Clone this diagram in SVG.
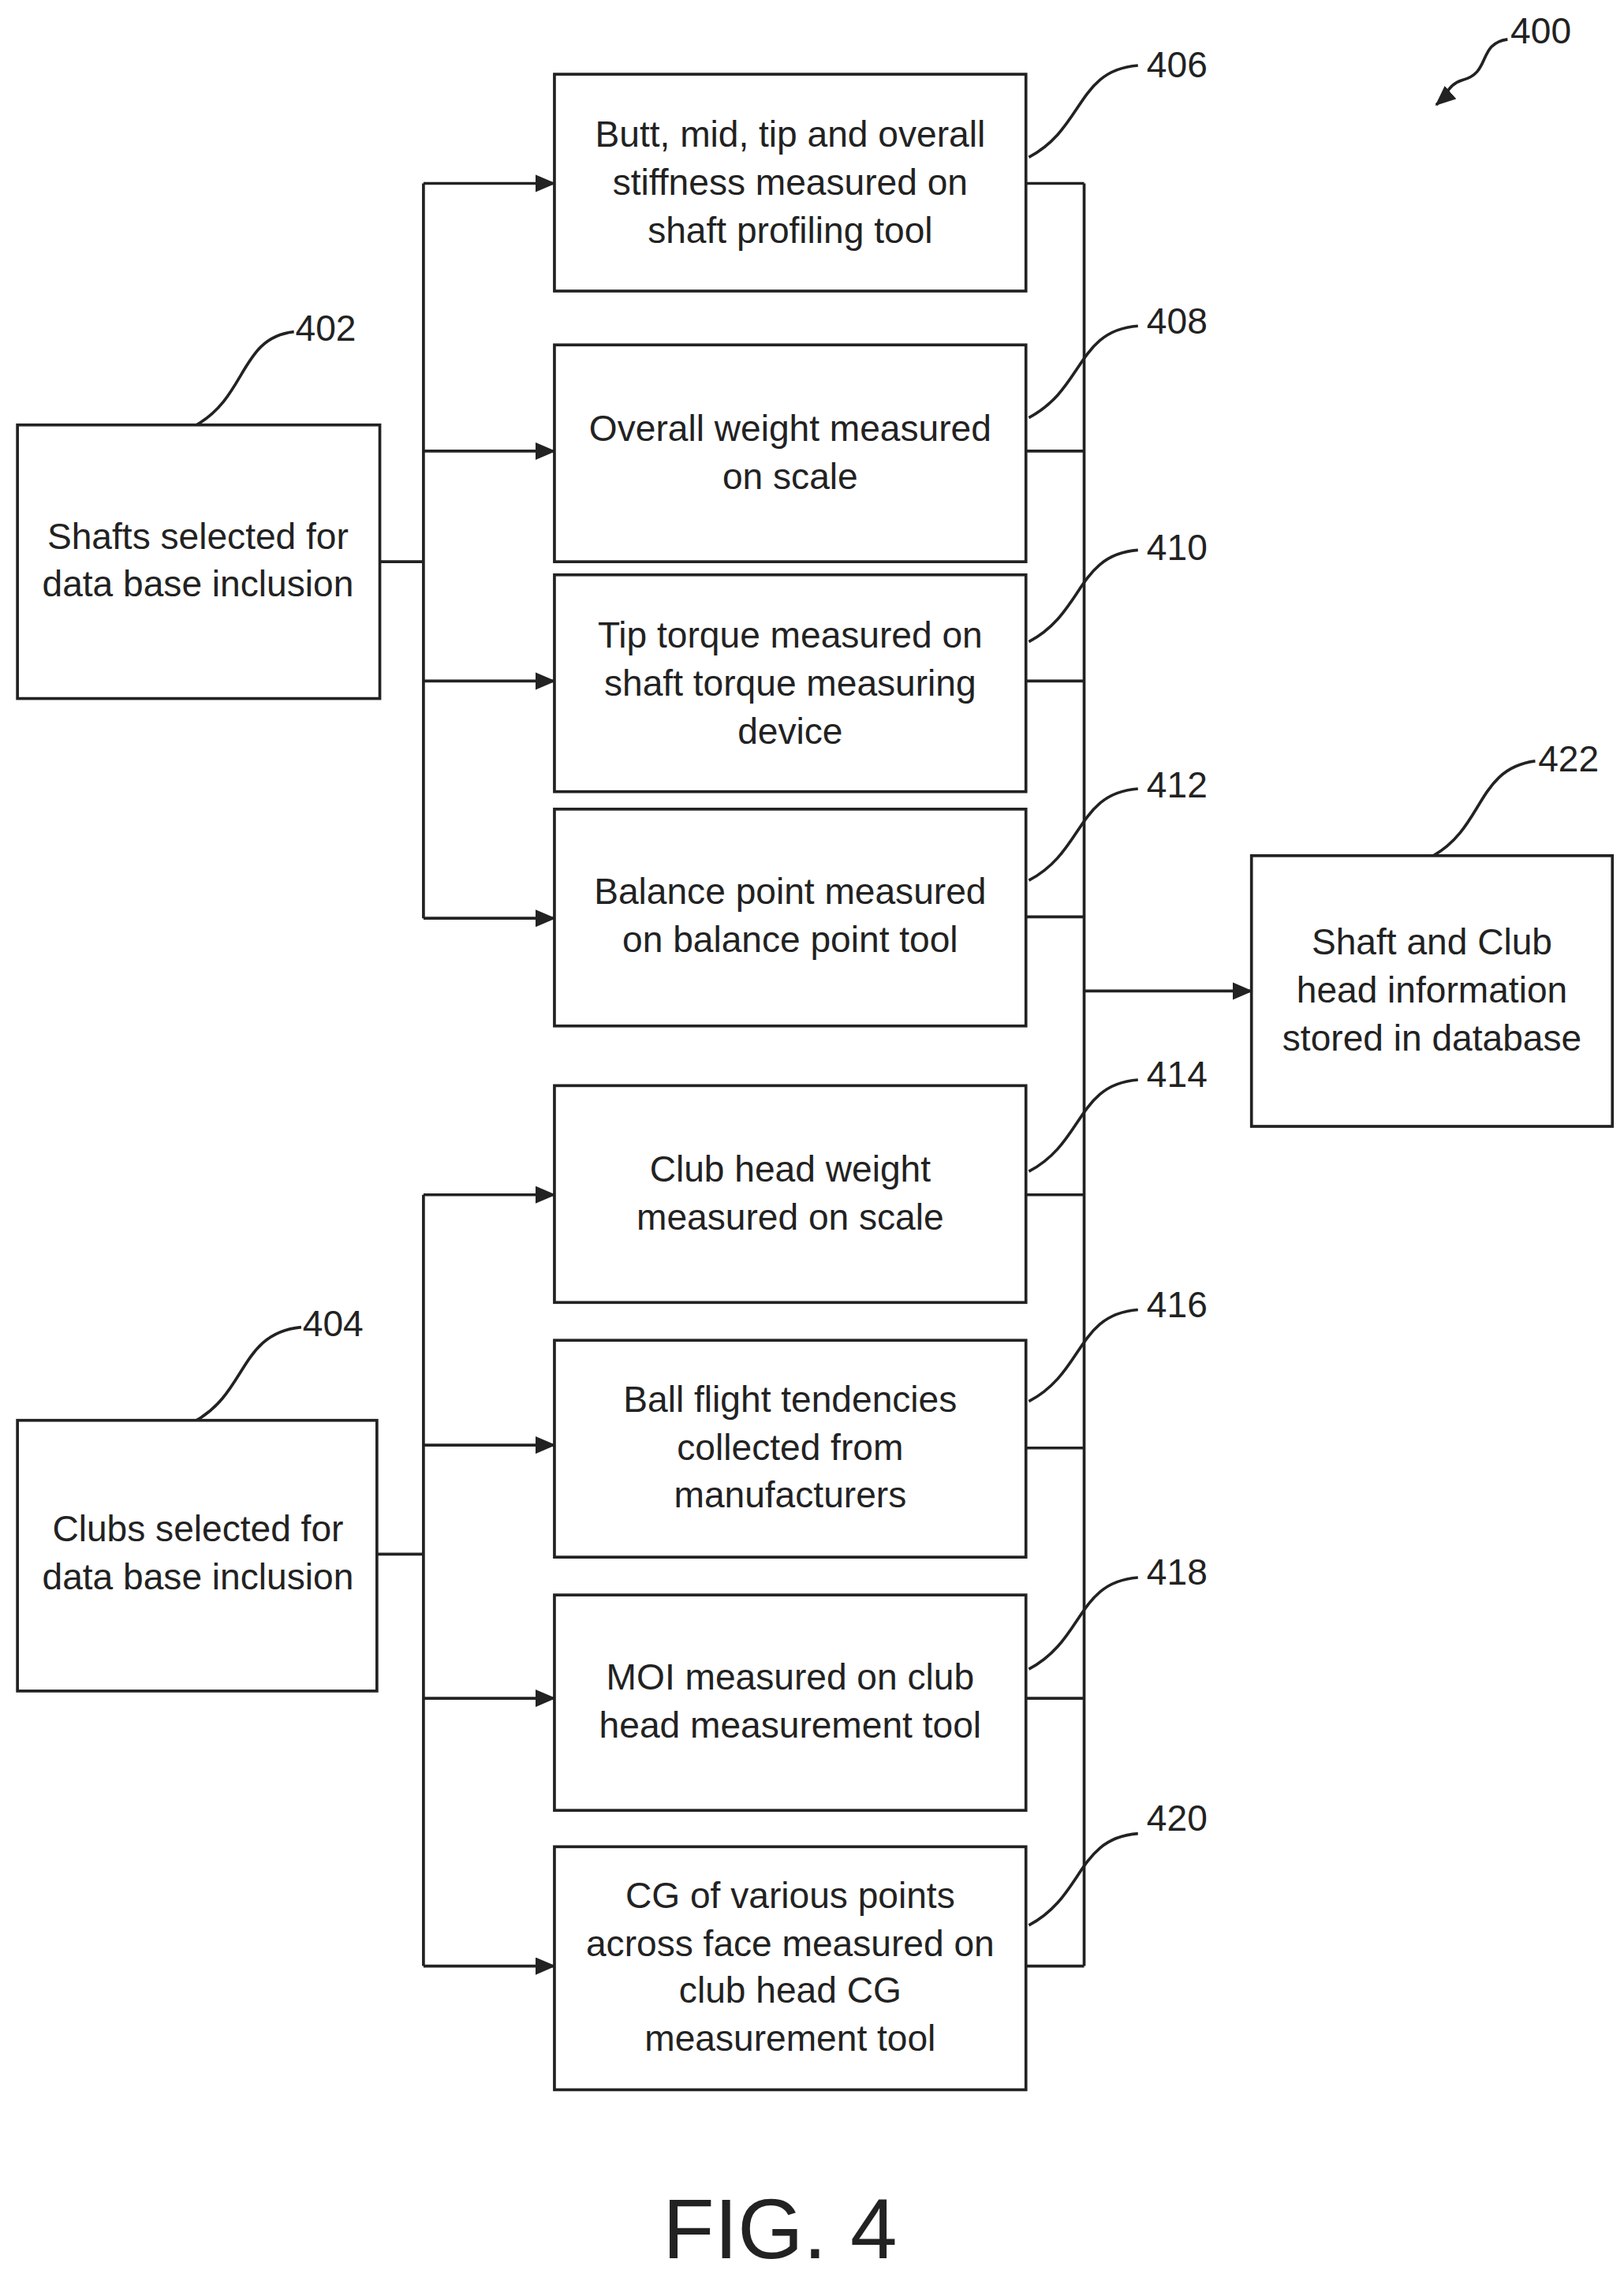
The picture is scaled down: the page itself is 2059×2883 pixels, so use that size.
<svg xmlns="http://www.w3.org/2000/svg" width="2059" height="2883" viewBox="0 0 2059 2883">
<style>
.b{fill:#fff;stroke:#222;stroke-width:2}
.l{fill:none;stroke:#222;stroke-width:2}
text{font-family:"Liberation Sans",Arial,sans-serif;font-size:25px;fill:#222;text-anchor:middle}
.n{text-anchor:start}
</style>
<defs><marker id="a" markerWidth="14" markerHeight="12" refX="13" refY="6" orient="auto" markerUnits="userSpaceOnUse"><path d="M0,0L14,6L0,12z" fill="#222"/></marker></defs>
<rect width="2059" height="2883" fill="#fff"/>
<g transform="scale(1.845)">
<g id="connectors">
<path class="l" d="M261,386H291M291,126V631"/>
<path class="l" marker-end="url(#a)" d="M291,126H381"/>
<path class="l" marker-end="url(#a)" d="M291,310H381"/>
<path class="l" marker-end="url(#a)" d="M291,468H381"/>
<path class="l" marker-end="url(#a)" d="M291,631H381"/>
<path class="l" d="M259,1068H291M291,821V1351"/>
<path class="l" marker-end="url(#a)" d="M291,821H381"/>
<path class="l" marker-end="url(#a)" d="M291,993H381"/>
<path class="l" marker-end="url(#a)" d="M291,1167H381"/>
<path class="l" marker-end="url(#a)" d="M291,1351H381"/>
<path class="l" d="M705,126H745M705,310H745M705,468H745M705,630H745M705,821H745M705,995H745M705,1167H745M705,1351H745M745,126V1351"/>
<path class="l" marker-end="url(#a)" d="M745,681H860"/>
<path class="l" d="M707,108C745,88 740,48 782,45M707,287C745,267 740,227 782,224M707,441C745,421 740,381 782,378M707,605C745,585 740,545 782,542M707,805C745,785 740,745 782,742M707,963C745,943 740,903 782,900M707,1147C745,1127 740,1087 782,1084M707,1323C745,1303 740,1263 782,1260M135,292C170,272 165,232 202,228M135,976C170,956 165,916 207,912M985,588C1020,568 1015,528 1055,523"/>
<path class="l" marker-end="url(#a)" d="M1036,27C1015,30 1025,50 1005,55C995,58 995,65 987,72"/>
</g>
<g id="n402"><rect class="b" x="12" y="292" width="249" height="188"/><text x="136" y="377">Shafts selected for</text><text x="136" y="410">data base inclusion</text></g>
<g id="n404"><rect class="b" x="12" y="976" width="247" height="186"/><text x="136" y="1059">Clubs selected for</text><text x="136" y="1092">data base inclusion</text></g>
<g id="n406"><rect class="b" x="381" y="51" width="324" height="149"/><text x="543" y="101">Butt, mid, tip and overall</text><text x="543" y="134">stiffness measured on</text><text x="543" y="167">shaft profiling tool</text></g>
<g id="n408"><rect class="b" x="381" y="237" width="324" height="149"/><text x="543" y="303">Overall weight measured</text><text x="543" y="336">on scale</text></g>
<g id="n410"><rect class="b" x="381" y="395" width="324" height="149"/><text x="543" y="445">Tip torque measured on</text><text x="543" y="478">shaft torque measuring</text><text x="543" y="511">device</text></g>
<g id="n412"><rect class="b" x="381" y="556" width="324" height="149"/><text x="543" y="621">Balance point measured</text><text x="543" y="654">on balance point tool</text></g>
<g id="n414"><rect class="b" x="381" y="746" width="324" height="149"/><text x="543" y="812">Club head weight</text><text x="543" y="845">measured on scale</text></g>
<g id="n416"><rect class="b" x="381" y="921" width="324" height="149"/><text x="543" y="970">Ball flight tendencies</text><text x="543" y="1003">collected from</text><text x="543" y="1036">manufacturers</text></g>
<g id="n418"><rect class="b" x="381" y="1096" width="324" height="148"/><text x="543" y="1161">MOI measured on club</text><text x="543" y="1194">head measurement tool</text></g>
<g id="n420"><rect class="b" x="381" y="1269" width="324" height="167"/><text x="543" y="1311">CG of various points</text><text x="543" y="1344">across face measured on</text><text x="543" y="1376">club head CG</text><text x="543" y="1409">measurement tool</text></g>
<g id="n422"><rect class="b" x="860" y="588" width="248" height="186"/><text x="984" y="656">Shaft and Club</text><text x="984" y="689">head information</text><text x="984" y="722">stored in database</text></g>
<g id="labels">
<text class="n" x="788" y="53">406</text><text class="n" x="788" y="229">408</text><text class="n" x="788" y="385">410</text><text class="n" x="788" y="548">412</text><text class="n" x="788" y="747">414</text><text class="n" x="788" y="905">416</text><text class="n" x="788" y="1089">418</text><text class="n" x="788" y="1258">420</text><text class="n" x="203" y="234">402</text><text class="n" x="208" y="918">404</text><text class="n" x="1057" y="530">422</text><text class="n" x="1038" y="30">400</text>
<text x="536" y="1552" style="font-size:58px">FIG. 4</text>
</g>
</g>
</svg>
